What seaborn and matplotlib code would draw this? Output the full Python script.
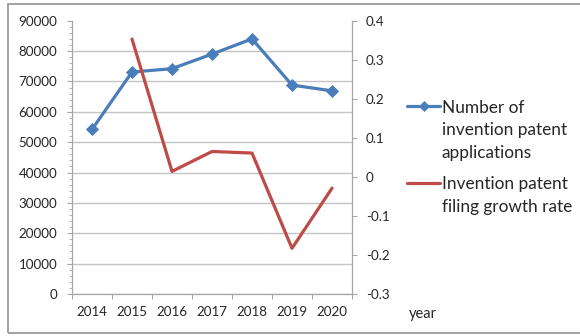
import numpy as np
import pandas as pd
import matplotlib
matplotlib.use("Agg")
import matplotlib.pyplot as plt
from matplotlib.lines import Line2D
from matplotlib.patches import Rectangle
from matplotlib.ticker import MultipleLocator
import seaborn as sns

# ---- data ----
years = ["2014", "2015", "2016", "2017", "2018", "2019", "2020"]
applications = [54200, 73100, 74200, 79000, 84000, 68800, 66900]
growth_years = ["2015", "2016", "2017", "2018", "2019", "2020"]
growth_rate = [0.353, 0.014, 0.065, 0.061, -0.183, -0.029]
left_ticks = [0, 10000, 20000, 30000, 40000, 50000, 60000, 70000, 80000, 90000]
right_ticks = [-0.3, -0.2, -0.1, 0.0, 0.1, 0.2, 0.3, 0.4]
label_apps = "Number of\ninvention patent\napplications"
label_growth = "Invention patent\nfiling growth rate"
xlabel_text = "year"

BLUE = "#4a7ebb"
RED = "#be4b48"
AXC = "#a6a6a6"
GRID = "#c4c4c4"
TXT = "#262626"

sns.set_theme(style="white")
plt.rcParams["font.family"] = ["Lato", "DejaVu Sans"]

W, H = 580, 336
fig = plt.figure(figsize=(W / 100, H / 100), dpi=100)
fig.patch.set_facecolor("white")
ax = fig.add_axes([72 / W, 1 - 294 / H, 280 / W, (294 - 20.7) / H])
ax2 = ax.twinx()

pos = {y: i for i, y in enumerate(years)}
df_apps = pd.DataFrame({"x": [pos[y] for y in years], "value": applications})
df_growth = pd.DataFrame({"x": [pos[y] for y in growth_years], "value": growth_rate})

sns.lineplot(data=df_apps, x="x", y="value", ax=ax, color=BLUE, lw=2.3,
             marker="D", markersize=6, markeredgecolor=BLUE, markeredgewidth=0.6,
             legend=False, zorder=3)
sns.lineplot(data=df_growth, x="x", y="value", ax=ax2, color=RED, lw=2.3,
             legend=False, zorder=3)

TICK_FS = 9.6

# x axis
ax.set_xlim(-0.5, len(years) - 0.5)
ax.set_xticks(np.arange(len(years) + 1) - 0.5)
ax.set_xticklabels([])
ax.set_xticks(np.arange(len(years)), minor=True)
ax.set_xticklabels(years, minor=True)
ax.tick_params(axis="x", which="major", direction="out", length=3.6, width=0.8,
               color=AXC, bottom=True)
ax.tick_params(axis="x", which="minor", length=0, pad=9, labelsize=TICK_FS,
               labelcolor=TXT, bottom=True)
ax.set_xlabel("")
ax.set_ylabel("")
ax2.set_xlabel("")
ax2.set_ylabel("")

# left axis
ax.set_ylim(left_ticks[0], left_ticks[-1])
ax.set_yticks(left_ticks)
ax.set_yticklabels([str(v) for v in left_ticks])
ax.yaxis.set_minor_locator(MultipleLocator(2000))
ax.tick_params(axis="y", which="major", direction="out", length=3.6, width=0.8,
               color=AXC, pad=7, labelsize=TICK_FS, labelcolor=TXT, left=True)
ax.tick_params(axis="y", which="minor", direction="out", length=2.2, width=0.6,
               color=AXC, left=True)
ax.yaxis.grid(True, which="major", color=GRID, lw=1.0)
ax.xaxis.grid(False)
ax.set_axisbelow(True)
ax.yaxis.get_gridlines()[-1].set_visible(False)

# right axis
ax2.set_ylim(right_ticks[0], right_ticks[-1])
ax2.set_yticks(right_ticks)
ax2.set_yticklabels([f"{v:g}" if abs(v) > 1e-9 else "0" for v in right_ticks])
ax2.tick_params(axis="y", which="major", direction="out", length=3.6, width=0.8,
                color=AXC, pad=6.5, labelsize=TICK_FS, labelcolor=TXT, right=True)
ax2.grid(False)

for s in ["top", "right"]:
    ax.spines[s].set_visible(False)
for s in ["left", "bottom"]:
    ax.spines[s].set_color(AXC)
    ax.spines[s].set_linewidth(0.9)
for s in ["top", "left", "bottom"]:
    ax2.spines[s].set_visible(False)
ax2.spines["right"].set_color(AXC)
ax2.spines["right"].set_linewidth(0.9)

# legend (Excel-like, handles aligned with first text line)
tf = fig.transFigure
LEG_FS = 12.4
fig.add_artist(Line2D([407 / W, 440 / W], [1 - 106 / H] * 2, color=BLUE, lw=2.3, transform=tf))
fig.add_artist(Line2D([423.5 / W], [1 - 106 / H], color=BLUE, marker="D", markersize=5,
                      markeredgewidth=0.5, transform=tf))
fig.add_artist(Line2D([407 / W, 440 / W], [1 - 183.5 / H] * 2, color=RED, lw=2.3, transform=tf))
# va="baseline" anchors the last line's baseline for multi-line text
fig.text(442 / W, 1 - 158 / H, label_apps, ha="left", va="baseline", fontsize=LEG_FS,
         linespacing=1.5, color=TXT)
fig.text(442 / W, 1 - 212 / H, label_growth, ha="left", va="baseline", fontsize=LEG_FS,
         linespacing=1.5, color=TXT)

fig.text(423 / W, 1 - 318 / H, xlabel_text, ha="center", va="baseline", fontsize=10.5, color=TXT)

# outer frame
fig.add_artist(Rectangle((8 / W, 3 / H), 1.0, 329 / H, fill=False, edgecolor="#9a9a9a",
                         lw=1.3, transform=tf, clip_on=False))

fig.savefig("out.png", dpi=100)
